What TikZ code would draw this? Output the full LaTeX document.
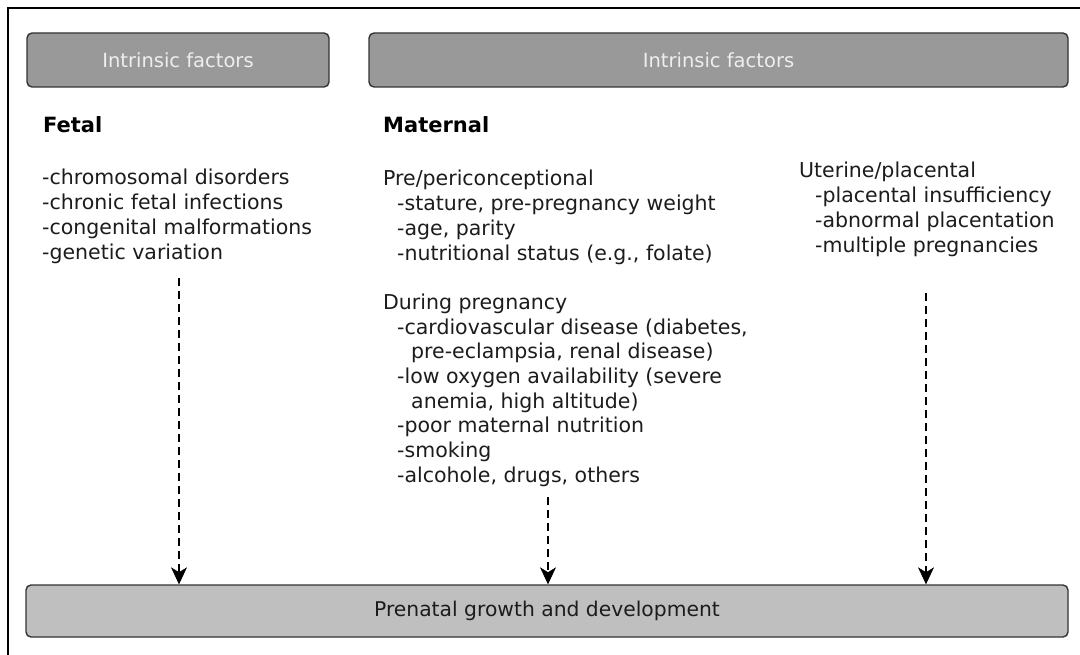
\documentclass[tikz,border=0pt]{standalone}
\usepackage{fontspec}
\setmainfont{DejaVu Sans}
\usetikzlibrary{arrows.meta}
\definecolor{hdrfill}{HTML}{999999}
\definecolor{hdrtext}{HTML}{EEEEEE}
\definecolor{basefill}{HTML}{BFBFBF}
\definecolor{edge}{HTML}{333333}
\definecolor{ink}{HTML}{1C1C1C}
\tikzset{
  hdrbox/.style={draw=edge, line width=1.4pt, fill=hdrfill, rounded corners=5pt,
    minimum height=54pt, inner sep=0pt, text=hdrtext,
    font=\fontsize{19.5}{23}\selectfont},
  basebox/.style={draw=edge, line width=1.4pt, fill=basefill, rounded corners=5pt,
    minimum height=52pt, inner sep=0pt, text=ink,
    font=\fontsize{20.3}{24}\selectfont},
  heading/.style={anchor=base west, inner sep=0pt, text=black,
    font=\fontsize{21}{25}\selectfont\bfseries},
  listblock/.style={anchor=north west, inner sep=0pt, align=left, text=ink,
    font=\fontsize{20.5}{24.7}\selectfont},
  flow/.style={draw=black, line width=1.1pt, dash pattern=on 8pt off 5pt,
    -{Stealth[length=17pt, width=16pt, inset=5pt, line width=0.6pt]}},
}
\begin{document}
\begin{tikzpicture}[x=1pt, y=-1pt]
\useasboundingbox (0,0) rectangle (1080,655);
\fill[white] (0,0) rectangle (1080,655);
% outer frame (top and left edges)
\draw[line width=2pt, black] (8,655) -- (8,8) -- (1080,8);

% header bars
\node[hdrbox, minimum width=302pt] (fetalhdr) at (178,60) {Intrinsic factors};
\node[hdrbox, minimum width=699pt] (materhdr) at (718.5,60) {Intrinsic factors};

% column headings
\node[heading] (fetal) at (43,133) {Fetal};
\node[heading] (maternal) at (383,133) {Maternal};

% fetal factors
\node[listblock] (fetallist) at (42,167.5) {%
\strut-chromosomal disorders\\
\strut-chronic fetal infections\\
\strut-congenital malformations\\
\strut-genetic variation};

% maternal factors
\node[listblock] (materlist) at (383,168.5) {%
\strut Pre/periconceptional\\
\strut\hspace*{14pt}-stature, pre-pregnancy weight\\
\strut\hspace*{14pt}-age, parity\\
\strut\hspace*{14pt}-nutritional status (e.g., folate)\\
\strut\\
\strut During pregnancy\\
\strut\hspace*{14pt}-cardiovascular disease (diabetes,\\
\strut\hspace*{28pt}pre-eclampsia, renal disease)\\
\strut\hspace*{14pt}-low oxygen availability (severe\\
\strut\hspace*{28pt}anemia, high altitude)\\
\strut\hspace*{14pt}-poor maternal nutrition\\
\strut\hspace*{14pt}-smoking\\
\strut\hspace*{14pt}-alcohole, drugs, others};

% uterine / placental factors
\node[listblock] (uterlist) at (799,160.5) {%
\strut Uterine/placental\\
\strut\hspace*{16pt}-placental insufficiency\\
\strut\hspace*{16pt}-abnormal placentation\\
\strut\hspace*{16pt}-multiple pregnancies};

% outcome bar
\node[basebox, minimum width=1042pt] (growth) at (547,611) {Prenatal growth and development};

% influence arrows
\coordinate (fetalsrc) at (179,278);
\coordinate (matersrc) at (548,497);
\coordinate (utersrc) at (926,293);
\draw[flow] (fetalsrc) -- (fetalsrc |- growth.north);
\draw[flow] (matersrc) -- (matersrc |- growth.north);
\draw[flow] (utersrc) -- (utersrc |- growth.north);
\end{tikzpicture}
\end{document}
